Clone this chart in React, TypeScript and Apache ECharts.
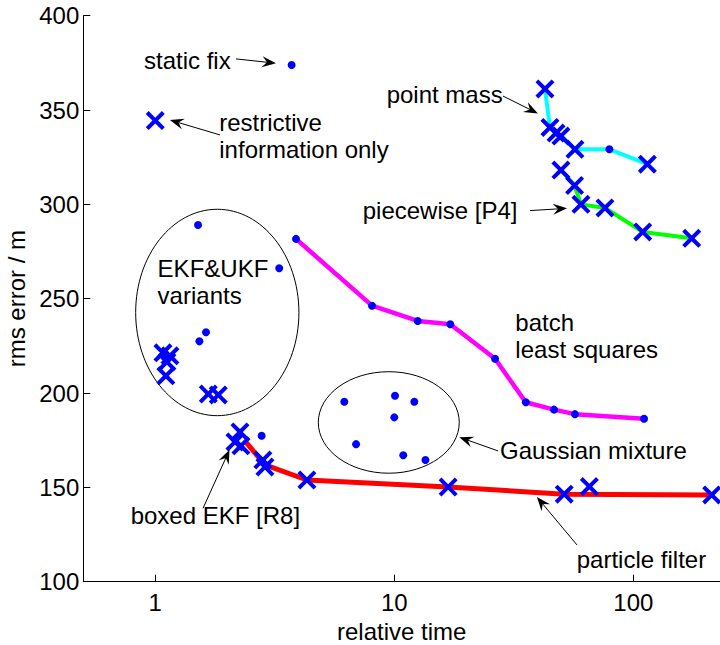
import React, { useEffect, useRef } from "react";
import * as echarts from "echarts";

const FONT = "'Liberation Sans', Arial, Helvetica, sans-serif";

// x tick values (log axis) and y range
const xTickValues = [1, 10, 100];
const yTicks = [100, 150, 200, 250, 300, 350, 400];

// ----- data (relative time, rms error) -----
const staticFix = [[3.72, 373.9]];
const restrictiveOnly = [[1.0, 344.4]];
const ekfDots = [[1.51, 289.1], [3.3, 266.1], [1.63, 232.2], [1.53, 227.4]];
const ekfCrosses = [[1.077, 221.3], [1.152, 219.7], [1.119, 216.5], [1.108, 209.1], [1.667, 199.5], [1.835, 199.0]];
const boxedCrosses = [[2.262, 179.4], [2.155, 174.1], [2.283, 172.0], [2.82, 164.5], [2.877, 160.8]];
const boxedDots = [[2.787, 177.4]];
const gaussDots = [[6.18, 195.4], [6.92, 172.9], [10.07, 198.6], [12.13, 195.4], [10.0, 187.1], [10.9, 167.0], [13.5, 164.5]];
const batchLS = [[3.88, 281.7], [8.07, 246.3], [12.53, 238.2], [17.15, 236.5], [26.4, 218.2], [35.5, 195.1], [46.6, 191.2], [57.0, 188.8], [110.9, 186.4]];
const particleLine = [[2.37, 174.6], [2.88, 161.9], [4.31, 153.9], [16.8, 150.2], [51.4, 146.4], [212.8, 146.0]];
const particleCrosses = [[4.31, 153.9], [16.8, 150.2], [51.4, 146.4], [65.5, 150.4], [212.8, 146.0]];
const pointMassLine = [[42.7, 361.2], [44.8, 340.8], [47.5, 337.8], [49.8, 336.2], [57.0, 329.2], [79.4, 329.2], [114.5, 321.3]];
const pointMassCrosses = [[42.7, 361.2], [44.8, 340.8], [47.5, 337.8], [49.8, 336.2], [57.0, 329.2], [114.5, 321.3]];
const pointMassDots = [[79.4, 329.2]];
const piecewiseP4 = [[49.8, 318.2], [56.8, 310.0], [60.4, 300.0], [76.1, 298.1], [109.5, 285.4], [175.5, 282.0]];

// ellipses: [xLeft, xRight, yTop, yBottom]
const ellipses = [
  [0.828, 3.99, 297.4, 188.0],
  [4.81, 18.7, 211.3, 157.5],
];

// annotation texts and their anchors [x, y, textIndex] (left edge, vertical middle)
const annotationTexts = [
  "static fix",
  "restrictive\ninformation only",
  "point mass",
  "piecewise [P4]",
  "EKF&UKF\nvariants",
  "batch\nleast squares",
  "Gaussian mixture",
  "boxed EKF [R8]",
  "particle filter",
];
const annotationAnchors = [
  [0.897, 376.5, 0],
  [1.853, 336.5, 1],
  [9.29, 358.0, 2],
  [7.38, 296.7, 3],
  [1.023, 258.6, 4],
  [32.1, 230.4, 5],
  [27.7, 169.3, 6],
  [0.789, 134.9, 7],
  [58.0, 111.9, 8],
];

// arrows: [tailX, tailY, tipX, tipY]
const arrows = [
  [2.177, 377.1, 3.2, 374.8],
  [1.865, 336.8, 1.152, 344.7],
  [28.5, 357.4, 39.9, 348.2],
  [37.0, 296.7, 52.8, 297.9],
  [27.2, 169.3, 18.7, 176.6],
  [1.584, 138.9, 2.045, 169.9],
  [58.1, 119.5, 39.5, 144.9],
];

const X_PATH = "path://M0,3L3,0L10,7L17,0L20,3L13,10L20,17L17,20L10,13L3,20L0,17L7,10Z";
const BLUE = "#0000ff";

function lineSeries(name: string, data: number[][], color: string, width: number) {
  return {
    name,
    type: "line",
    data,
    symbol: "none",
    lineStyle: { color, width, opacity: 1 },
    z: 2,
    silent: true,
  };
}
function dotSeries(name: string, data: number[][]) {
  return {
    name,
    type: "scatter",
    data,
    symbol: "circle",
    symbolSize: 8,
    itemStyle: { color: BLUE, opacity: 1 },
    z: 3,
    silent: true,
  };
}
function crossSeries(name: string, data: number[][]) {
  return {
    name,
    type: "scatter",
    data,
    symbol: X_PATH,
    symbolSize: 19,
    itemStyle: { color: BLUE, opacity: 1 },
    z: 4,
    silent: true,
  };
}

export default function App() {
  const ref = useRef<HTMLDivElement>(null);
  useEffect(() => {
    if (!ref.current) return;
    const chart = echarts.init(ref.current, undefined, { renderer: "svg" });
    const option: any = {
      animation: false,
      backgroundColor: "#ffffff",
      grid: { left: 83.3, right: 0, top: 15.7, bottom: 63.3, containLabel: false, outerBoundsMode: "none" },
      xAxis: {
        type: "log",
        logBase: 10,
        min: 0.5,
        max: 230.5,
        name: "relative time",
        nameLocation: "middle",
        nameGap: 36,
        nameTextStyle: { fontFamily: FONT, fontSize: 24, color: "#000", lineHeight: 24 },
        axisLine: { show: true, lineStyle: { color: "#000", width: 1 } },
        axisTick: { show: true, inside: true, length: 7, customValues: xTickValues, lineStyle: { color: "#000" } },
        minorTick: { show: false },
        axisLabel: {
          show: true,
          customValues: xTickValues,
          margin: 9,
          fontFamily: FONT,
          fontSize: 24,
          lineHeight: 24,
          color: "#000",
          formatter: (v: number) => String(Math.round(v)),
        },
        splitLine: { show: false },
      },
      yAxis: {
        type: "value",
        min: yTicks[0],
        max: yTicks[yTicks.length - 1],
        interval: 50,
        name: "rms error / m",
        nameLocation: "middle",
        nameGap: 53,
        nameTextStyle: { fontFamily: FONT, fontSize: 24, color: "#000" },
        axisLine: { show: true, lineStyle: { color: "#000", width: 1 } },
        axisTick: { show: true, inside: true, length: 7, lineStyle: { color: "#000" } },
        axisLabel: { margin: 4, fontFamily: FONT, fontSize: 24, color: "#000" },
        splitLine: { show: false },
      },
      series: [
        {
          name: "ellipses",
          type: "custom",
          data: ellipses,
          encode: { x: [0, 1], y: [2, 3] },
          silent: true,
          z: 1,
          renderItem: (params: any, api: any) => {
            const p1 = api.coord([api.value(0), api.value(2)]);
            const p2 = api.coord([api.value(1), api.value(3)]);
            return {
              type: "ellipse",
              shape: {
                cx: (p1[0] + p2[0]) / 2,
                cy: (p1[1] + p2[1]) / 2,
                rx: Math.abs(p2[0] - p1[0]) / 2,
                ry: Math.abs(p2[1] - p1[1]) / 2,
              },
              style: { fill: "none", stroke: "#000", lineWidth: 1 },
            };
          },
        },
        lineSeries("particle filter", particleLine, "#ff0000", 5),
        lineSeries("batch least squares", batchLS, "#ff00ff", 4.5),
        lineSeries("point mass", pointMassLine, "#00ffff", 4),
        lineSeries("piecewise [P4]", piecewiseP4, "#00ff00", 4),
        dotSeries("static fix", staticFix),
        dotSeries("EKF&UKF dots", ekfDots),
        dotSeries("boxed EKF dots", boxedDots),
        dotSeries("Gaussian mixture", gaussDots),
        dotSeries("batch dots", batchLS),
        dotSeries("point mass dots", pointMassDots),
        crossSeries("restrictive information only", restrictiveOnly),
        crossSeries("EKF&UKF crosses", ekfCrosses),
        crossSeries("boxed EKF crosses", boxedCrosses),
        crossSeries("particle crosses", particleCrosses),
        crossSeries("point mass crosses", pointMassCrosses),
        crossSeries("piecewise crosses", piecewiseP4),
        {
          name: "arrows",
          type: "custom",
          data: arrows,
          encode: { x: [0, 2], y: [1, 3] },
          silent: true,
          z: 5,
          renderItem: (params: any, api: any) => {
            const a = api.coord([api.value(0), api.value(1)]);
            const b = api.coord([api.value(2), api.value(3)]);
            const dx = b[0] - a[0];
            const dy = b[1] - a[1];
            const len = Math.sqrt(dx * dx + dy * dy) || 1;
            const ux = dx / len;
            const uy = dy / len;
            const nx = -uy;
            const ny = ux;
            const L = 14;
            const W = 5.5;
            const N = 9;
            const notch = [b[0] - N * ux, b[1] - N * uy];
            return {
              type: "group",
              children: [
                {
                  type: "line",
                  shape: { x1: a[0], y1: a[1], x2: notch[0], y2: notch[1] },
                  style: { stroke: "#000", lineWidth: 1 },
                },
                {
                  type: "polygon",
                  shape: {
                    points: [
                      [b[0], b[1]],
                      [b[0] - L * ux + W * nx, b[1] - L * uy + W * ny],
                      notch,
                      [b[0] - L * ux - W * nx, b[1] - L * uy - W * ny],
                    ],
                  },
                  style: { fill: "#000", stroke: "none" },
                },
              ],
            };
          },
        },
        {
          name: "annotations",
          type: "custom",
          data: annotationAnchors,
          encode: { x: 0, y: 1 },
          silent: true,
          z: 6,
          renderItem: (params: any, api: any) => {
            const p = api.coord([api.value(0), api.value(1)]);
            const idx = api.value(2);
            return {
              type: "text",
              x: p[0],
              y: p[1],
              style: {
                text: annotationTexts[idx],
                fill: "#000",
                fontFamily: FONT,
                fontSize: 24,
                lineHeight: 27,
                align: "left",
                verticalAlign: "middle",
              },
            };
          },
        },
      ],
    };
    chart.setOption(option);
    return () => chart.dispose();
  }, []);
  return (
    <div
      ref={ref}
      style={{ position: "absolute", left: 0, top: 0, width: 720, height: 645, background: "#fff" }}
    />
  );
}
